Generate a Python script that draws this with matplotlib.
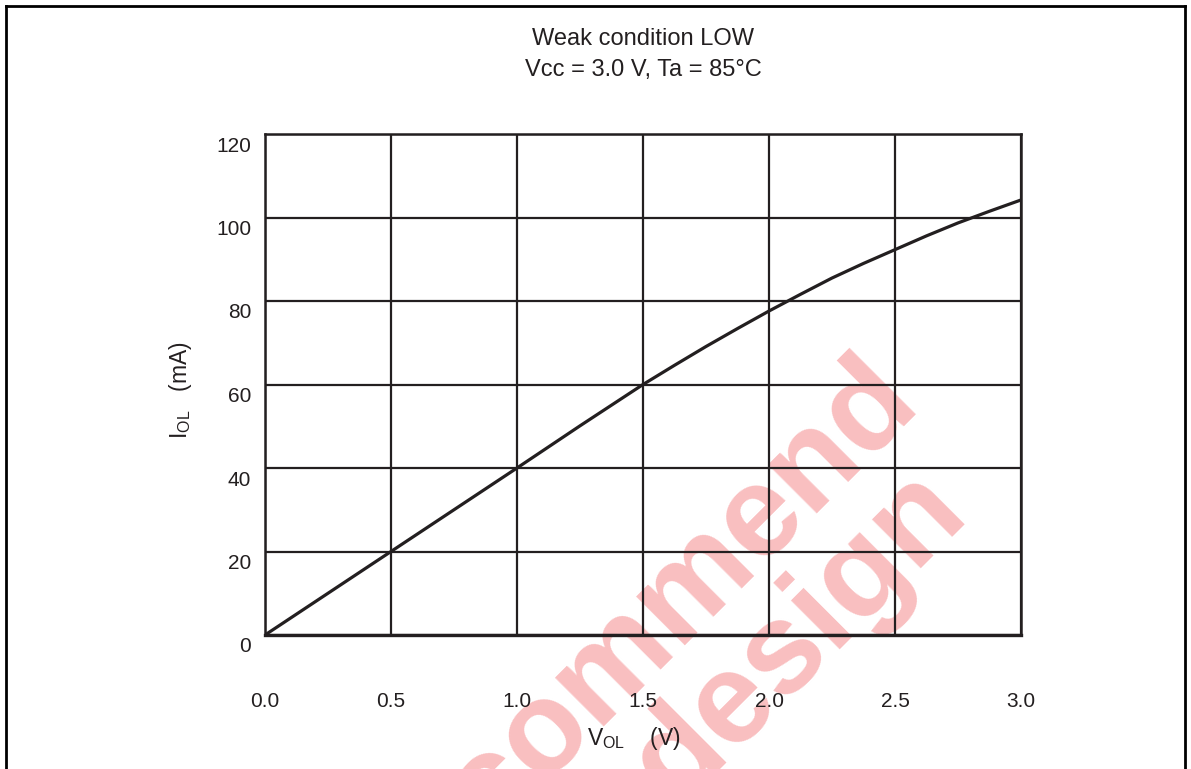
import matplotlib
matplotlib.use("Agg")
import matplotlib.pyplot as plt
import matplotlib.transforms as mtransforms
from matplotlib.lines import Line2D

plt.rcParams['font.family'] = ['Liberation Sans', 'DejaVu Sans']
plt.rcParams['mathtext.fontset'] = 'custom'
plt.rcParams['mathtext.rm'] = 'Liberation Sans'

# values
v_ol = [0.0, 0.25, 0.5, 0.75, 1.0, 1.25, 1.5, 1.625, 1.75, 1.875, 2.0, 2.125,
        2.25, 2.375, 2.5, 2.625, 2.75, 2.875, 3.0]
i_ol = [0.0, 10.0, 20.0, 30.0, 40.0, 50.1, 60.0, 64.6, 69.1, 73.4, 77.6, 81.6,
        85.5, 89.0, 92.3, 95.6, 98.7, 101.5, 104.2]
x_ticks = [0.0, 0.5, 1.0, 1.5, 2.0, 2.5, 3.0]
y_ticks = [0, 20, 40, 60, 80, 100, 120]

ink = '#231f20'

fig = plt.figure(figsize=(11.91, 7.69), dpi=100)
ax = fig.add_axes([265 / 1191, 1 - 635 / 769, (1021 - 265) / 1191, (635 - 134) / 769])

ax.plot(v_ol, i_ol, color=ink, lw=2.3, zorder=3, solid_joinstyle='round')
ax.set_xlim(0, 3.0)
ax.set_ylim(0, 120)
ax.set_xticks(x_ticks)
ax.set_xticklabels(['%.1f' % t for t in x_ticks])
ax.set_yticks(y_ticks)
ax.grid(True, color=ink, lw=1.6)
ax.tick_params(length=0, labelsize=15, labelcolor=ink)
ax.tick_params(axis='x', pad=41)
ax.tick_params(axis='y', pad=10)
for s in ax.spines.values():
    s.set_color(ink)
    s.set_linewidth(1.8)
ax.spines['bottom'].set_linewidth(2.4)

# y labels sit a little below their grid lines
shift = mtransforms.ScaledTranslation(0, -10 / 100, fig.dpi_scale_trans)
for lab in ax.get_yticklabels():
    lab.set_transform(lab.get_transform() + shift)

fig.text(643 / 1191, 1 - 39 / 769, 'Weak condition LOW', ha='center', va='center',
         fontsize=17, color=ink)
fig.text(643 / 1191, 1 - 70 / 769, 'Vcc = 3.0 V, Ta = 85°C', ha='center', va='center',
         fontsize=17, color=ink)
fig.text(181 / 1191, 1 - 390 / 769, r'$\mathregular{I_{OL}}$   (mA)', rotation=90,
         ha='center', va='center', fontsize=16.5, color=ink)
fig.text(634 / 1191, 1 - 738 / 769, r'$\mathregular{V_{OL}}$    (V)',
         ha='center', va='center', fontsize=16.5, color=ink)

# watermark behind the grid
wm = dict(color='#f9bfc0', fontsize=93, fontweight='bold', rotation=45,
          rotation_mode='anchor', ha='center', va='center',
          transform=fig.transFigure, clip_on=False, zorder=1)
ax.text(682 / 1191, 1 - 596 / 769, 'commend', **wm)
ax.text(800 / 1191, 1 - 638 / 769, 'design', **wm)

# page frame
for xs, ys in [([6 / 1191, 6 / 1191], [-0.1, 1 - 6 / 769]),
               ([6 / 1191, 1185 / 1191], [1 - 6 / 769, 1 - 6 / 769]),
               ([1185 / 1191, 1185 / 1191], [1 - 6 / 769, -0.1])]:
    fig.add_artist(Line2D(xs, ys, color='black', lw=2, transform=fig.transFigure))

fig.savefig('out.png', dpi=100)
